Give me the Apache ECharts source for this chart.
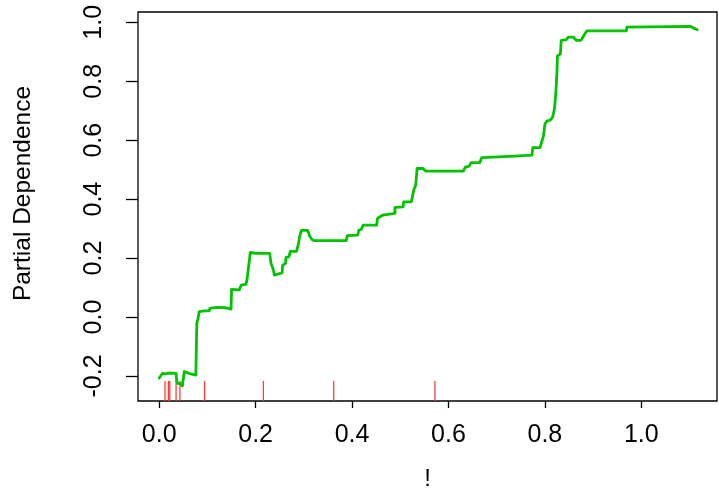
<!DOCTYPE html>
<html>
<head>
<meta charset="utf-8">
<script src="https://cdn.jsdelivr.net/npm/echarts@6/dist/echarts.min.js"></script>
<style>
  html, body { margin: 0; padding: 0; background: #fff; }
  #chart { width: 719px; height: 491px; }
</style>
</head>
<body>
<div id="chart"></div>
<script>
// Partial dependence curve: predictor value (x) and averaged prediction (y)
const pdX = [
  0.000, 0.002, 0.004, 0.007, 0.012, 0.021, 0.035, 0.036, 0.038, 0.045,
  0.048, 0.052, 0.056, 0.061, 0.076, 0.078, 0.080, 0.083, 0.094, 0.104,
  0.105, 0.119, 0.137, 0.149, 0.150, 0.166, 0.170, 0.180, 0.182, 0.184,
  0.189, 0.200, 0.229, 0.232, 0.237, 0.239, 0.246, 0.255, 0.256, 0.262,
  0.263, 0.269, 0.272, 0.285, 0.289, 0.291, 0.295, 0.308, 0.312, 0.317,
  0.322, 0.388, 0.390, 0.412, 0.414, 0.419, 0.423, 0.451, 0.453, 0.464,
  0.489, 0.489, 0.506, 0.507, 0.523, 0.528, 0.532, 0.535, 0.547, 0.553,
  0.631, 0.635, 0.643, 0.647, 0.665, 0.669, 0.672, 0.738, 0.742, 0.773,
  0.775, 0.790, 0.794, 0.797, 0.800, 0.804, 0.811, 0.816, 0.820, 0.823,
  0.825, 0.826, 0.832, 0.834, 0.844, 0.849, 0.859, 0.865, 0.875, 0.880,
  0.887, 0.969, 0.970, 1.102, 1.107, 1.116
];
const pdY = [
  -0.207, -0.210, -0.207, -0.191, -0.193, -0.190, -0.191, -0.214, -0.225, -0.227,
  -0.234, -0.185, -0.183, -0.191, -0.197, -0.021, -0.010, 0.018, 0.021, 0.021,
  0.029, 0.033, 0.032, 0.027, 0.094, 0.092, 0.108, 0.111, 0.125, 0.152,
  0.219, 0.216, 0.216, 0.182, 0.159, 0.142, 0.146, 0.150, 0.176, 0.182,
  0.202, 0.204, 0.223, 0.223, 0.250, 0.272, 0.294, 0.294, 0.275, 0.263,
  0.259, 0.259, 0.276, 0.278, 0.295, 0.297, 0.312, 0.312, 0.335, 0.346,
  0.352, 0.372, 0.374, 0.391, 0.391, 0.431, 0.447, 0.504, 0.504, 0.495,
  0.495, 0.509, 0.512, 0.524, 0.524, 0.541, 0.546, 0.546, 0.549, 0.549,
  0.575, 0.575, 0.598, 0.614, 0.654, 0.665, 0.668, 0.678, 0.708, 0.769,
  0.831, 0.886, 0.892, 0.939, 0.941, 0.950, 0.950, 0.939, 0.939, 0.953,
  0.971, 0.971, 0.984, 0.986, 0.982, 0.975
];

// Deciles of the predictor, shown as a rug along the bottom
const rugX = [0.012, 0.019, 0.022, 0.035, 0.043, 0.094, 0.216, 0.362, 0.572];

// Tick positions
const xTicks = [0.0, 0.2, 0.4, 0.6, 0.8, 1.0];
const yTicks = [-0.2, 0.0, 0.2, 0.4, 0.6, 0.8, 1.0];

const X_MIN = -0.044, X_MAX = 1.157;
const Y_MIN = -0.285, Y_MAX = 1.035;

const FONT = '"Liberation Sans", Arial, Helvetica, sans-serif';

const curve = pdX.map((x, i) => [x, pdY[i]]);

const chart = echarts.init(document.getElementById('chart'), null, { renderer: 'canvas' });

chart.setOption({
  animation: false,
  backgroundColor: '#ffffff',
  grid: {
    left: 138, right: 2, top: 12, bottom: 90,
    outerBoundsMode: 'none',
    containLabel: false,
    show: true, borderColor: '#000000', borderWidth: 1.3, backgroundColor: 'transparent'
  },
  xAxis: {
    type: 'value',
    min: X_MIN, max: X_MAX,
    name: '!',
    nameLocation: 'middle',
    nameGap: 66,
    nameTextStyle: { fontFamily: FONT, fontSize: 24, color: '#000' },
    axisLine: { show: false, onZero: false },
    splitLine: { show: false },
    axisTick: {
      show: true, length: 7, customValues: xTicks,
      lineStyle: { color: '#000', width: 1.3 }
    },
    axisLabel: {
      customValues: xTicks,
      margin: 22,
      fontFamily: FONT, fontSize: 25, color: '#000',
      formatter: v => v.toFixed(1)
    }
  },
  yAxis: {
    type: 'value',
    min: Y_MIN, max: Y_MAX,
    name: 'Partial Dependence',
    nameLocation: 'middle',
    nameRotate: 90,
    nameGap: 102,
    nameTextStyle: { fontFamily: FONT, fontSize: 24.5, color: '#000', padding: [0, 0, 0, 26] },
    axisLine: { show: false, onZero: false },
    splitLine: { show: false },
    axisTick: {
      show: true, length: 12, customValues: yTicks,
      lineStyle: { color: '#000', width: 1.3 }
    },
    axisLabel: {
      customValues: yTicks,
      rotate: 90,
      margin: 31,
      fontFamily: FONT, fontSize: 25, color: '#000',
      formatter: v => v.toFixed(1)
    }
  },
  series: [
    {
      type: 'custom',
      name: 'rug',
      data: rugX.map(x => [x]),
      encode: { x: 0 },
      z: 1,
      renderItem: function (params, api) {
        const base = api.coord([api.value(0), Y_MIN]);
        return {
          type: 'line',
          shape: { x1: base[0], y1: base[1], x2: base[0], y2: base[1] - 20 },
          style: { stroke: '#ff3030', lineWidth: 1.2 }
        };
      }
    },
    {
      type: 'line',
      name: 'partial dependence',
      data: curve,
      showSymbol: false,
      z: 3,
      lineStyle: { color: '#00c400', width: 2.8, join: 'round', cap: 'round' }
    }
  ]
});
</script>
</body>
</html>
